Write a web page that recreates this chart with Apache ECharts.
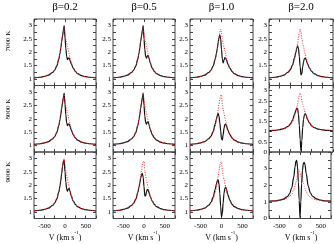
<!DOCTYPE html>
<html>
<head>
<meta charset="utf-8">
<script src="https://cdn.jsdelivr.net/npm/echarts@6/dist/echarts.min.js"></script>
<style>html,body{margin:0;padding:0;background:#fff}#c{width:334px;height:244px}</style>
</head>
<body>
<div id="c"></div>
<script>
// ---- data ----
const columnTitles = ['β=0.2', 'β=0.5', 'β=1.0', 'β=2.0'];
const rowTitles = ['7000 K', '8000 K', '9000 K'];
const xTickLabels = [-500, 0, 500];
const velocity = [-750,-600,-500,-400,-300,-250,-200,-150,-120,-100,-80,-60,-40,-20,0,20,40,60,80,100,120,150,200,250,300,400,500,600,750];

// black solid profiles
const black7000_b02 = [1.04,1.06,1.09,1.14,1.24,1.33,1.48,1.74,1.97,2.17,2.4,2.62,2.82,3.0,2.55,2.15,1.85,1.72,1.78,1.78,1.7,1.57,1.4,1.28,1.2,1.12,1.08,1.06,1.04];
const black7000_b05 = [1.04,1.06,1.09,1.14,1.24,1.33,1.48,1.74,1.97,2.17,2.4,2.62,2.82,3.0,2.5,2.1,1.85,1.78,1.86,1.88,1.78,1.6,1.4,1.28,1.2,1.12,1.08,1.06,1.04];
const black7000_b10 = [1.04,1.06,1.09,1.14,1.24,1.33,1.48,1.74,1.96,2.15,2.36,2.55,2.65,2.5,2.1,1.75,1.6,1.7,1.8,1.78,1.7,1.55,1.4,1.28,1.2,1.12,1.08,1.06,1.04];
const black7000_b20 = [1.04,1.06,1.09,1.14,1.25,1.35,1.52,1.8,2.0,2.15,2.24,2.15,1.85,1.45,1.15,1.2,1.45,1.65,1.76,1.78,1.72,1.57,1.4,1.28,1.2,1.12,1.08,1.06,1.04];
const black8000_b02 = [1.04,1.06,1.09,1.14,1.24,1.33,1.48,1.74,1.97,2.17,2.4,2.6,2.8,2.96,2.55,2.15,1.85,1.74,1.8,1.8,1.72,1.58,1.4,1.28,1.2,1.12,1.08,1.06,1.04];
const black8000_b05 = [1.04,1.06,1.09,1.14,1.24,1.33,1.48,1.74,1.97,2.17,2.4,2.6,2.8,2.96,2.5,2.1,1.86,1.8,1.87,1.88,1.78,1.6,1.4,1.28,1.2,1.12,1.08,1.06,1.04];
const black8000_b10 = [1.04,1.06,1.09,1.14,1.25,1.35,1.52,1.8,2.0,2.12,2.2,2.1,1.85,1.55,1.25,1.2,1.4,1.65,1.78,1.8,1.72,1.57,1.4,1.28,1.2,1.12,1.08,1.06,1.04];
const black8000_b20 = [1.04,1.06,1.09,1.14,1.25,1.36,1.55,1.85,2.05,2.15,2.12,1.85,1.3,0.6,0.05,0.55,1.2,1.6,1.82,1.88,1.8,1.6,1.42,1.28,1.2,1.12,1.08,1.06,1.04];
const black9000_b02 = [1.04,1.06,1.09,1.14,1.24,1.33,1.48,1.74,1.98,2.2,2.45,2.7,2.9,2.95,2.5,2.12,1.86,1.78,1.86,1.88,1.78,1.6,1.4,1.28,1.2,1.12,1.08,1.06,1.04];
const black9000_b05 = [1.04,1.06,1.09,1.14,1.24,1.33,1.47,1.72,1.93,2.1,2.27,2.4,2.45,2.3,1.95,1.6,1.6,1.75,1.85,1.82,1.72,1.57,1.4,1.28,1.2,1.12,1.08,1.06,1.04];
const black9000_b10 = [1.04,1.06,1.09,1.14,1.25,1.36,1.55,1.85,2.05,2.17,2.2,2.05,1.7,1.2,0.82,0.95,1.35,1.7,1.88,1.93,1.85,1.65,1.43,1.29,1.2,1.12,1.08,1.06,1.04];
const black9000_b20 = [1.04,1.06,1.1,1.17,1.33,1.5,1.85,2.5,3.1,3.45,3.5,3.1,2.2,1.1,0.05,1.0,2.1,2.9,3.3,3.38,3.25,2.7,1.95,1.55,1.35,1.18,1.1,1.06,1.04];

// red dotted profiles
const red7000_b02 = [1.04,1.06,1.09,1.14,1.24,1.33,1.48,1.74,1.97,2.17,2.4,2.6,2.78,2.92,2.7,2.5,2.35,2.22,2.08,1.94,1.8,1.61,1.41,1.28,1.2,1.12,1.08,1.06,1.04];
const red7000_b05 = [1.04,1.06,1.09,1.14,1.24,1.33,1.48,1.74,1.97,2.17,2.4,2.6,2.78,2.92,2.7,2.5,2.35,2.22,2.08,1.94,1.8,1.61,1.41,1.28,1.2,1.12,1.08,1.06,1.04];
const red7000_b10 = [1.04,1.06,1.09,1.14,1.24,1.33,1.48,1.72,1.93,2.12,2.33,2.55,2.75,2.87,2.75,2.5,2.33,2.2,2.05,1.92,1.78,1.6,1.41,1.28,1.2,1.12,1.08,1.06,1.04];
const red7000_b20 = [1.04,1.06,1.09,1.14,1.24,1.33,1.48,1.72,1.93,2.12,2.33,2.55,2.75,2.87,2.75,2.5,2.33,2.2,2.05,1.92,1.78,1.6,1.41,1.28,1.2,1.12,1.08,1.06,1.04];
const red8000_b02 = [1.04,1.06,1.09,1.14,1.24,1.33,1.48,1.74,1.97,2.17,2.4,2.6,2.78,2.92,2.7,2.5,2.35,2.22,2.08,1.94,1.8,1.61,1.41,1.28,1.2,1.12,1.08,1.06,1.04];
const red8000_b05 = [1.04,1.06,1.09,1.14,1.24,1.33,1.48,1.74,1.97,2.17,2.4,2.6,2.78,2.94,2.72,2.5,2.35,2.22,2.08,1.94,1.8,1.61,1.41,1.28,1.2,1.12,1.08,1.06,1.04];
const red8000_b10 = [1.04,1.06,1.09,1.14,1.24,1.33,1.48,1.72,1.93,2.12,2.33,2.55,2.75,2.88,2.9,2.55,2.35,2.2,2.05,1.92,1.78,1.6,1.41,1.28,1.2,1.12,1.08,1.06,1.04];
const red8000_b20 = [1.04,1.06,1.09,1.14,1.24,1.33,1.48,1.72,1.93,2.12,2.33,2.55,2.75,2.88,2.8,2.5,2.33,2.2,2.05,1.92,1.78,1.6,1.41,1.28,1.2,1.12,1.08,1.06,1.04];
const red9000_b02 = [1.04,1.06,1.09,1.14,1.24,1.33,1.48,1.74,1.98,2.2,2.45,2.7,2.9,3.0,2.75,2.52,2.36,2.22,2.08,1.94,1.8,1.61,1.41,1.28,1.2,1.12,1.08,1.06,1.04];
const red9000_b05 = [1.04,1.06,1.09,1.14,1.24,1.33,1.48,1.72,1.93,2.12,2.33,2.55,2.75,2.88,2.9,2.55,2.35,2.2,2.05,1.92,1.78,1.6,1.41,1.28,1.2,1.12,1.08,1.06,1.04];
const red9000_b10 = [1.04,1.06,1.09,1.14,1.24,1.33,1.48,1.72,1.93,2.12,2.33,2.55,2.75,2.86,2.88,2.55,2.35,2.2,2.05,1.92,1.78,1.6,1.41,1.28,1.2,1.12,1.08,1.06,1.04];
const red9000_b20 = [1.04,1.06,1.09,1.14,1.24,1.33,1.48,1.74,1.97,2.17,2.38,2.58,2.78,2.95,2.8,2.58,2.4,2.28,2.12,1.95,1.8,1.6,1.4,1.28,1.2,1.12,1.08,1.06,1.04];

const blackProfiles = [
  [black7000_b02, black7000_b05, black7000_b10, black7000_b20],
  [black8000_b02, black8000_b05, black8000_b10, black8000_b20],
  [black9000_b02, black9000_b05, black9000_b10, black9000_b20]
];
const redProfiles = [
  [red7000_b02, red7000_b05, red7000_b10, red7000_b20],
  [red8000_b02, red8000_b05, red8000_b10, red8000_b20],
  [red9000_b02, red9000_b05, red9000_b10, red9000_b20]
];

// ---- layout ----
const colLeft = [34, 113, 190, 269];
const colWidth = [62, 62, 63, 64];
const rowTop = [19, 85.5, 152];
const rowHeight = 66.5;
const FONT = 'Liberation Serif';
const AX = '#444';

function yScale(r, c) {
  if (c === 3 && r === 1) return {min: 0, max: 3.25, interval: 0.25, labelStep: 0.5};
  if (c === 3 && r === 2) return {min: 0, max: 4, interval: 0.5, labelStep: 1};
  return {min: 0.75, max: 3.25, interval: 0.25, labelStep: 0.5};
}

const grid = [], xAxis = [], yAxis = [], series = [], graphic = [];
let gi = 0;
for (let r = 0; r < 3; r++) {
  for (let c = 0; c < 4; c++) {
    grid.push({left: colLeft[c], top: rowTop[r], width: colWidth[c], height: rowHeight,
      show: true, borderColor: AX, borderWidth: 1, containLabel: false});
    const tick = {show: true, inside: true, length: 3, lineStyle: {color: AX, width: 1}};
    const xBase = {type: 'value', gridIndex: gi, min: -750, max: 750, interval: 250,
      axisLine: {show: false, onZero: false}, splitLine: {show: false}, axisTick: tick};
    xAxis.push(Object.assign({}, xBase, {position: 'bottom',
      axisLabel: {show: r === 2, margin: 4, fontFamily: FONT, fontSize: 7, color: '#000',
        formatter: v => xTickLabels.indexOf(Math.round(v)) >= 0 ? String(Math.round(v)) : ''}}));
    xAxis.push(Object.assign({}, xBase, {position: 'top', axisLabel: {show: false}}));
    const ys = yScale(r, c);
    const yBase = {type: 'value', gridIndex: gi, min: ys.min, max: ys.max, interval: ys.interval,
      axisLine: {show: false, onZero: false}, splitLine: {show: false}, axisTick: tick};
    yAxis.push(Object.assign({}, yBase, {position: 'left',
      axisLabel: {show: true, margin: 2, fontFamily: FONT, fontSize: 7, color: '#000',
        formatter: v => {
          const k = Math.round(v * 100);
          const st = Math.round(ys.labelStep * 100);
          if (k % st !== 0) return '';
          if (Math.abs(v - ys.max) < 1e-6) return '';
          return String(k / 100);
        }}}));
    yAxis.push(Object.assign({}, yBase, {position: 'right', axisLabel: {show: false}}));

    const bl = blackProfiles[r][c], rd = redProfiles[r][c];
    series.push({type: 'line', xAxisIndex: 2 * gi, yAxisIndex: 2 * gi,
      data: velocity.map((v, i) => [v, bl[i]]), showSymbol: false, smooth: 0.35, smoothMonotone: 'x',
      lineStyle: {color: '#111', width: 1.2}, clip: true, silent: true});
    series.push({type: 'line', xAxisIndex: 2 * gi, yAxisIndex: 2 * gi,
      data: velocity.map((v, i) => [v, rd[i]]), showSymbol: false, smooth: 0.35, smoothMonotone: 'x',
      lineStyle: {color: '#ff2020', width: 1, type: [1, 1.5]}, clip: true, silent: true});
    gi++;
  }
}

for (let c = 0; c < 4; c++) {
  graphic.push({type: 'text', x: colLeft[c] + colWidth[c] / 2, y: 7,
    style: {text: columnTitles[c], fontFamily: FONT, fontSize: 11, fill: '#000', align: 'center', verticalAlign: 'middle'}});
  graphic.push({type: 'text', x: colLeft[c] + colWidth[c] / 2, y: 236,
    style: {text: '{n|V (km s}{s|-1}{n|)}', fill: '#000', align: 'center', verticalAlign: 'middle',
      rich: {n: {fontFamily: FONT, fontSize: 8, verticalAlign: 'bottom', lineHeight: 11},
             s: {fontFamily: FONT, fontSize: 5, verticalAlign: 'top', lineHeight: 11}}}});
}
const rowLabelY = [41, 109, 172];
for (let r = 0; r < 3; r++) {
  graphic.push({type: 'text', x: 8, y: rowLabelY[r], rotation: Math.PI / 2,
    style: {text: rowTitles[r], fontFamily: FONT, fontSize: 7, fill: '#000', align: 'center', verticalAlign: 'middle'}});
}

const chart = echarts.init(document.getElementById('c'), null, {renderer: 'canvas'});
chart.setOption({animation: false, backgroundColor: '#fff', grid, xAxis, yAxis, series, graphic});
</script>
</body>
</html>
